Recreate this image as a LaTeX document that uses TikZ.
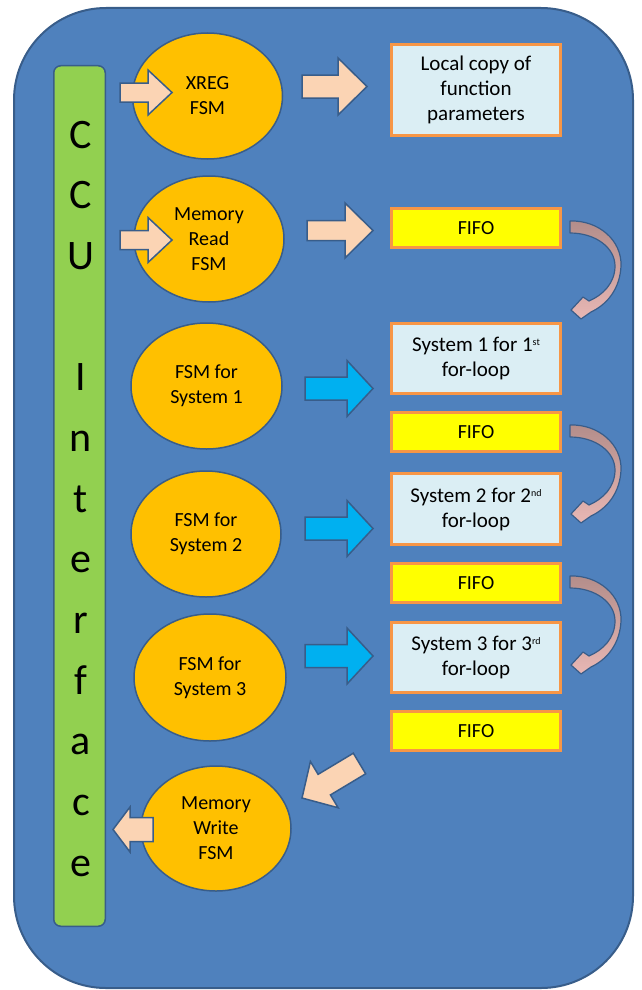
\documentclass[tikz,border=0pt]{standalone}
\usepackage{fontspec}
\setmainfont{Carlito}
\usetikzlibrary{calc,shapes.geometric}

\definecolor{panel}{HTML}{4F81BD}
\definecolor{panelline}{HTML}{385D8A}
\definecolor{ccugreen}{HTML}{92D050}
\definecolor{fsmorange}{HTML}{FFC000}
\definecolor{boxblue}{HTML}{DBEEF4}
\definecolor{boxline}{HTML}{F79646}
\definecolor{fifoyellow}{HTML}{FFFF00}
\definecolor{peach}{HTML}{FBD4B4}
\definecolor{cyanarrow}{HTML}{00B0F0}
\definecolor{mauvetop}{HTML}{B38D8A}
\definecolor{mauvebottom}{HTML}{E8B7B4}

% small raised ordinal suffix
\newcommand\ordsuffix[1]{\raisebox{6pt}{\fontsize{10}{10}\selectfont #1}}

% block arrow: style, tail, tip, shaft half width, head half width, head length
\newcommand\fsmarrow[6]{%
  \coordinate (ba-base) at ($(#3)!#6!(#2)$);
  \draw[#1] ($(#2)!#4!90:(#3)$) -- ($(ba-base)!#4!-90:(#2)$)
    -- ($(ba-base)!#5!-90:(#2)$) -- (#3) -- ($(ba-base)!#5!90:(#2)$)
    -- ($(ba-base)!#4!90:(#2)$) -- ($(#2)!#4!-90:(#3)$) -- cycle;
}

\tikzset{
  fsm/.style={ellipse, draw=panelline, line width=1.5pt, fill=fsmorange,
    inner sep=0pt, align=center, font=\fontsize{20}{25}\selectfont},
  membox/.style={rectangle, draw=boxline, line width=3pt, fill=boxblue,
    minimum width=169pt, inner sep=0pt, align=center,
    font=\fontsize{21}{25}\selectfont},
  fifobox/.style={rectangle, draw=boxline, line width=3pt, fill=fifoyellow,
    minimum width=169pt, minimum height=39pt, inner sep=0pt,
    font=\fontsize{20}{24}\selectfont},
  peacharrow/.style={draw=panelline, line width=1.5pt, fill=peach, line join=miter},
  cyanblock/.style={draw=panelline, line width=1.5pt, fill=cyanarrow, line join=miter},
  cculetter/.style={anchor=base, inner sep=0pt, font=\fontsize{42}{42}\selectfont},
  bendarrow/.pic={
    \draw[draw=panelline, line width=1.2pt, top color=mauvetop,
      bottom color=mauvebottom, line join=round]
      (8,-7) .. controls (36,-8) and (60,12) .. (59,38)
      .. controls (58,60) and (46,76) .. (29,84)
      -- (19,91) -- (9,82) -- (21,69) -- (27,73)
      .. controls (41,67) and (53,55) .. (53,38)
      .. controls (53,20) and (34,5) .. (8,5) -- cycle;
  },
}

\begin{document}
\begin{tikzpicture}[x=1pt,y=-1pt]
  \useasboundingbox (0,0) rectangle (642,990);

  % outer panel
  \draw[fill=panel, draw=panelline, line width=2pt, rounded corners=92pt]
    (14,8) rectangle (633,988);

  % CCU Interface bar
  \node[draw=panelline, line width=1.5pt, fill=ccugreen, rounded corners=7pt,
    minimum width=51.5pt, minimum height=860.5pt, inner sep=0pt]
    (ccu) at (79.5,496) {};
  \foreach \ch/\k in {C/0,C/1,U/2,I/4,n/5,t/6,e/7,r/8,f/9,a/10,c/11,e/12}
    \node[cculetter] (ltr\k) at (81,{148+60.67*\k}) {\ch};

  % state machines
  \node[fsm, minimum width=150pt, minimum height=126pt] (xreg) at (207.5,96) {XREG\\FSM};
  \node[fsm, minimum width=150pt, minimum height=126pt] (mread) at (209,239) {Memory\\Read\\FSM};
  \node[fsm, minimum width=151pt, minimum height=126pt] (fsm1) at (206.5,386) {FSM for\\System 1};
  \node[fsm, minimum width=150pt, minimum height=126pt] (fsm2) at (206,534) {FSM for\\System 2};
  \node[fsm, minimum width=152pt, minimum height=127pt] (fsm3) at (210,677.5) {FSM for\\System 3};
  \node[fsm, minimum width=150pt, minimum height=125pt] (mwrite) at (216,828.5) {Memory\\Write\\FSM};

  % right column
  \node[membox, minimum height=91pt] (local) at (476,90) {Local copy of\\function\\parameters};
  \node[fifobox] (fifo1) at (476,228) {FIFO};
  \node[membox, minimum height=70pt] (sys1) at (476,358.5) {System 1 for 1\ordsuffix{st}\\for-loop};
  \node[fifobox] (fifo2) at (476,432) {FIFO};
  \node[membox, minimum height=71pt] (sys2) at (476,509) {System 2 for 2\ordsuffix{nd}\\for-loop};
  \node[fifobox] (fifo3) at (476,583) {FIFO};
  \node[membox, minimum height=70pt] (sys3) at (476,657.5) {System 3 for 3\ordsuffix{rd}\\for-loop};
  \node[fifobox] (fifo4) at (476,731) {FIFO};

  % arrow end points
  \coordinate (a1t) at (120,92.5);   \coordinate (a1h) at (172,92.5);
  \coordinate (a2t) at (120,240);    \coordinate (a2h) at (172,240);
  \coordinate (a3t) at (302,86.5);   \coordinate (a3h) at (367,86.5);
  \coordinate (a4t) at (307,230.5);  \coordinate (a4h) at (373,230.5);
  \coordinate (b1t) at (305,388.5);  \coordinate (b1h) at (373,388.5);
  \coordinate (b2t) at (305,528.5);  \coordinate (b2h) at (373,528.5);
  \coordinate (b3t) at (305,656);    \coordinate (b3h) at (373,656);
  \coordinate (dt)  at (359.5,763.5); \coordinate (dh) at (302,798);
  \coordinate (wt)  at (153,829.5);  \coordinate (wh) at (113,829.5);

  % CCU to FSMs
  \fsmarrow{peacharrow}{a1t}{a1h}{9.5pt}{22.5pt}{24pt}
  \fsmarrow{peacharrow}{a2t}{a2h}{9.5pt}{22.5pt}{24pt}
  % FSMs to storage
  \fsmarrow{peacharrow}{a3t}{a3h}{11.5pt}{28.5pt}{29pt}
  \fsmarrow{peacharrow}{a4t}{a4h}{10pt}{27.5pt}{28pt}
  % FSMs to systems
  \fsmarrow{cyanblock}{b1t}{b1h}{11.5pt}{28pt}{26pt}
  \fsmarrow{cyanblock}{b2t}{b2h}{11.5pt}{28pt}{26pt}
  \fsmarrow{cyanblock}{b3t}{b3h}{11.5pt}{28pt}{26pt}
  % last FIFO to memory write, and back to CCU
  \fsmarrow{peacharrow}{dt}{dh}{12pt}{27pt}{26pt}
  \fsmarrow{peacharrow}{wt}{wh}{12pt}{22.5pt}{17pt}

  % FIFO to next system
  \pic at (fifo1.east) {bendarrow};
  \pic at (fifo2.east) {bendarrow};
  \pic at (fifo3.east) {bendarrow};
\end{tikzpicture}
\end{document}
